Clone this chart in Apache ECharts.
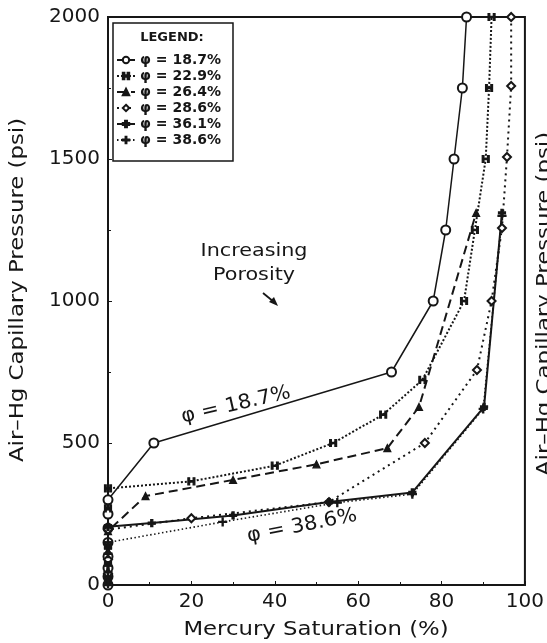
<!DOCTYPE html>
<html><head><meta charset="utf-8">
<script src="https://cdn.jsdelivr.net/npm/echarts@6/dist/echarts.min.js"></script>
<style>html,body{margin:0;padding:0;background:#fff}#c{width:547px;height:643px}</style>
</head><body><div id="c"></div>
<script>
// ---- data (Mercury saturation %, Air-Hg capillary pressure psi) ----
const xTicks = [0, 20, 40, 60, 80, 100];
const yTicks = [0, 500, 1000, 1500, 2000];
const seriesNames = ['18.7%', '22.9%', '26.4%', '28.6%', '36.1%', '38.6%'];
const phi187 = [[0,0],[0,30],[0,60],[0,100],[0,150],[0,200],[0,250],[0,300],[11,500],[68,750],[78,1000],[81,1250],[83,1500],[85,1750],[86,2000]];
const phi229 = [[0,20],[0,80],[0,140],[0,200],[0,270],[0,340],[20,365],[40,420],[54,500],[66,600],[75.4,722],[85.4,1000],[88,1250],[90.6,1500],[91.4,1750],[92,2000]];
const phi264 = [[0,10],[0,50],[0,120],[0,190],[9,313],[30,370],[50,425],[67,482],[74.6,627],[88.3,1310]];
const phi286 = [[0,40],[0,90],[0,195],[20,235],[53,292],[76,500],[88.5,757],[92,1000],[94.5,1257],[95.7,1507],[96.7,1757],[96.7,2000]];
const phi361 = [[0,15],[0,70],[0,130],[0,205],[10.5,218],[30,245],[53,292],[73,326],[90.2,627],[94.5,1310]];
const phi386 = [[0,5],[0,45],[0,110],[0,150],[27.5,222],[55,290],[73,320],[90,620],[94.5,1300]];

const INK = '#161616';
const FONT = 'DejaVu Sans';
const barsPath = 'path://M0,0 L2,0 L2,10 L0,10 Z M6,0 L8,0 L8,10 L6,10 Z M0,4 L8,4 L8,6 L0,6 Z';
const boldPlus = 'path://M3.5,0 L6.5,0 L6.5,3.5 L10,3.5 L10,6.5 L6.5,6.5 L6.5,10 L3.5,10 L3.5,6.5 L0,6.5 L0,3.5 L3.5,3.5 Z';
const thinPlus = 'path://M4.3,0 L5.7,0 L5.7,4.3 L10,4.3 L10,5.7 L5.7,5.7 L5.7,10 L4.3,10 L4.3,5.7 L0,5.7 L0,4.3 L4.3,4.3 Z';

const specs = [
  {data: phi187, symbol: 'emptyCircle', size: 9, type: 'solid', width: 1.5},
  {data: phi229, symbol: barsPath, size: [7, 7], type: [2, 2], width: 2},
  {data: phi264, symbol: 'triangle', size: 7, type: [9, 5], width: 2},
  {data: phi286, symbol: 'emptyDiamond', size: 8, type: [2, 4], width: 2},
  {data: phi361, symbol: boldPlus, size: 7, type: 'solid', width: 2},
  {data: phi386, symbol: thinPlus, size: 8, type: [1.5, 2.5], width: 1.6}
];

const chart = echarts.init(document.getElementById('c'), null, {renderer: 'canvas'});
chart.setOption({
  backgroundColor: '#ffffff',
  animation: false,
  grid: {left: 108, right: 22, top: 17, bottom: 58, show: true, borderColor: INK, borderWidth: 2},
  xAxis: {
    type: 'value', min: 0, max: 100, interval: 20,
    axisLine: {show: true, lineStyle: {color: INK, width: 2}},
    axisTick: {show: true, inside: true, length: 4, lineStyle: {color: INK}},
    minorTick: {show: true, splitNumber: 2, length: 3, lineStyle: {color: INK}},
    splitLine: {show: false},
    axisLabel: {fontFamily: FONT, fontSize: 20, color: INK, margin: 7,
      formatter: v => xTicks.includes(v) ? String(v) : ''}
  },
  yAxis: {
    type: 'value', min: 0, max: 2000, interval: 500,
    axisLine: {show: true, lineStyle: {color: INK, width: 2}},
    axisTick: {show: true, inside: true, length: 4, lineStyle: {color: INK}},
    minorTick: {show: true, splitNumber: 2, length: 3, lineStyle: {color: INK}},
    splitLine: {show: false},
    axisLabel: {fontFamily: FONT, fontSize: 20, color: INK, margin: 8,
      formatter: v => yTicks.includes(v) ? String(v) : ''}
  },
  legend: {
    orient: 'vertical', left: 113, top: 23,
    padding: [30, 12, 14, 3],
    borderColor: INK, borderWidth: 1.5,
    itemWidth: 18, itemHeight: 8, itemGap: 2,
    textStyle: {fontFamily: FONT, fontSize: 14, fontWeight: 'bold', color: INK, lineHeight: 13},
    formatter: n => '\u03c6 = ' + n,
    data: seriesNames
  },
  series: specs.map((s, i) => ({
    name: seriesNames[i], type: 'line', data: s.data,
    symbol: s.symbol, symbolSize: s.size, showSymbol: true,
    itemStyle: {color: INK, borderColor: INK, borderWidth: 1.2},
    lineStyle: {color: INK, type: s.type, width: s.width},
    clip: false, z: 3
  })),
  graphic: [
    {type: 'text', x: 172, y: 38, z: 10, style: {text: 'LEGEND:', font: 'bold 13px "DejaVu Sans"', fill: INK, textAlign: 'center', textVerticalAlign: 'middle'}},
    {type: 'text', x: 236, y: 405, rotation: 0.225, scaleX: 1.05, style: {text: '\u03c6 = 18.7%', font: '20px "DejaVu Sans"', fill: INK, textAlign: 'center', textVerticalAlign: 'middle'}},
    {type: 'text', x: 302, y: 526, rotation: 0.19, scaleX: 1.05, style: {text: '\u03c6 = 38.6%', font: '20px "DejaVu Sans"', fill: INK, textAlign: 'center', textVerticalAlign: 'middle'}},
    {type: 'text', x: 254, y: 251, scaleX: 1.15, style: {text: 'Increasing', font: '18px "DejaVu Sans"', fill: INK, textAlign: 'center', textVerticalAlign: 'middle'}},
    {type: 'text', x: 254, y: 275, scaleX: 1.15, style: {text: 'Porosity', font: '18px "DejaVu Sans"', fill: INK, textAlign: 'center', textVerticalAlign: 'middle'}},
    {type: 'line', shape: {x1: 263, y1: 293, x2: 274, y2: 302}, style: {stroke: INK, lineWidth: 1.8}},
    {type: 'polygon', shape: {points: [[278, 306], [269, 302], [274, 297]]}, style: {fill: INK}},
    {type: 'text', x: 316, y: 630, scaleX: 1.2, style: {text: 'Mercury Saturation (%)', font: '19px "DejaVu Sans"', fill: INK, textAlign: 'center', textVerticalAlign: 'middle'}},
    {type: 'text', x: 18, y: 290, rotation: Math.PI / 2, scaleX: 1.2, style: {text: 'Air\u2013Hg Capillary Pressure (psi)', font: '19px "DejaVu Sans"', fill: INK, textAlign: 'center', textVerticalAlign: 'middle'}},
    {type: 'text', x: 545, y: 304, rotation: Math.PI / 2, scaleX: 1.2, style: {text: 'Air\u2013Hg Capillary Pressure (psi)', font: '19px "DejaVu Sans"', fill: INK, textAlign: 'center', textVerticalAlign: 'middle'}}
  ]
});
</script></body></html>
